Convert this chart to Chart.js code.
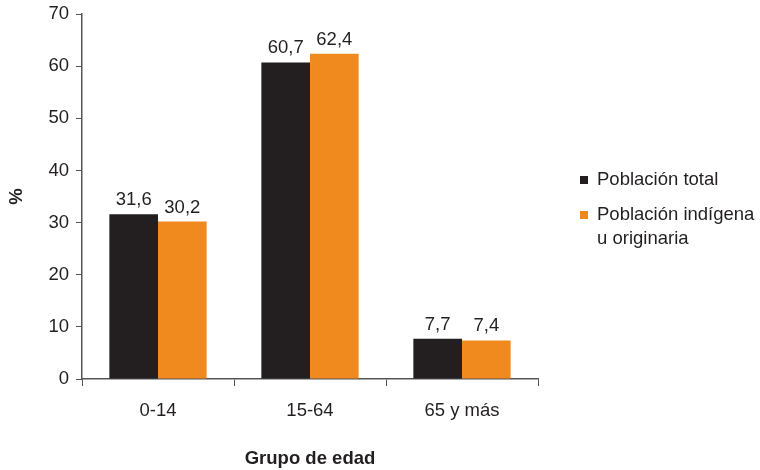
<!DOCTYPE html>
<html>
<head>
<meta charset="utf-8">
<script src="https://cdn.jsdelivr.net/npm/chart.js@4"></script>
<style>
  html, body { margin: 0; padding: 0; background: #fff; }
  #wrap { width: 760px; height: 470px; }
</style>
</head>
<body>
<div id="wrap"><canvas id="c" width="760" height="470"></canvas></div>
<script>
const categories = ['0-14', '15-64', '65 y más'];
const totalValues = [31.6, 60.7, 7.7];
const indigenaValues = [30.2, 62.4, 7.4];
const seriesNames = ['Población total', ['Población indígena', 'u originaria']];
const yTicks = [0, 10, 20, 30, 40, 50, 60, 70];

const INK = '#231f20';
const ORANGE = '#f08a1f';
const FONT = '"Liberation Sans", Arial, sans-serif';
const FS = 18.5;

const valueLabels = {
    id: 'valueLabels',
    afterDatasetsDraw(chart) {
        const ctx = chart.ctx;
        ctx.save();
        ctx.font = FS + 'px ' + FONT;
        ctx.fillStyle = INK;
        ctx.textAlign = 'center';
        ctx.textBaseline = 'alphabetic';
        chart.data.datasets.forEach((ds, i) => {
            chart.getDatasetMeta(i).data.forEach((bar, j) => {
                const txt = ds.data[j].toFixed(1).replace('.', ',');
                ctx.fillText(txt, bar.x, bar.y - 9);
            });
        });
        ctx.restore();
    }
};

const sideLegend = {
    id: 'sideLegend',
    afterDraw(chart) {
        const ctx = chart.ctx;
        ctx.save();
        ctx.font = FS + 'px ' + FONT;
        ctx.textBaseline = 'middle';
        ctx.textAlign = 'left';
        const rows = [180, 215];
        chart.data.datasets.forEach((ds, i) => {
            ctx.fillStyle = ds.backgroundColor;
            ctx.fillRect(580, rows[i] - 4, 8, 8);
            ctx.fillStyle = INK;
            const lines = Array.isArray(seriesNames[i]) ? seriesNames[i] : [seriesNames[i]];
            lines.forEach((ln, k) => ctx.fillText(ln, 597, rows[i] + k * 24));
        });
        ctx.restore();
    }
};

new Chart(document.getElementById('c'), {
    type: 'bar',
    data: {
        labels: categories,
        datasets: [
            { label: 'Población total', data: totalValues, backgroundColor: INK },
            { label: 'Población indígena u originaria', data: indigenaValues, backgroundColor: ORANGE }
        ]
    },
    options: {
        animation: false,
        responsive: false,
        devicePixelRatio: 1,
        layout: { padding: { top: 14, right: 222, left: 0, bottom: 0 } },
        datasets: { bar: { categoryPercentage: 0.64, barPercentage: 1.0 } },
        plugins: { legend: { display: false }, tooltip: { enabled: false } },
        scales: {
            x: {
                grid: { display: true, drawOnChartArea: false, drawTicks: true, tickLength: 7, color: '#555', offset: true },
                border: { display: true, color: '#555', width: 1.5 },
                ticks: { color: INK, font: { family: FONT, size: FS }, padding: 14 },
                title: { display: true, text: 'Grupo de edad', color: INK, font: { family: FONT, size: FS, weight: 'bold' }, padding: { top: 0, bottom: 0 } },
                afterFit(scale) { scale.height = 91; }
            },
            y: {
                min: 0, max: 70,
                afterBuildTicks(scale) { scale.ticks = yTicks.map(v => ({ value: v })); },
                grid: { display: true, drawOnChartArea: false, drawTicks: true, tickLength: 6, color: '#555' },
                border: { display: true, color: '#555', width: 1.5 },
                ticks: { color: INK, font: { family: FONT, size: FS }, padding: 7 },
                title: { display: true, text: '%', color: INK, font: { family: FONT, size: FS, weight: 'bold' }, padding: { top: 6, bottom: 0 } },
                afterFit(scale) {
                    scale.width = 82;
                    scale.paddingTop = 0;
                    scale.paddingBottom = 0;
                }
            }
        }
    },
    plugins: [valueLabels, sideLegend]
});
</script>
</body>
</html>
